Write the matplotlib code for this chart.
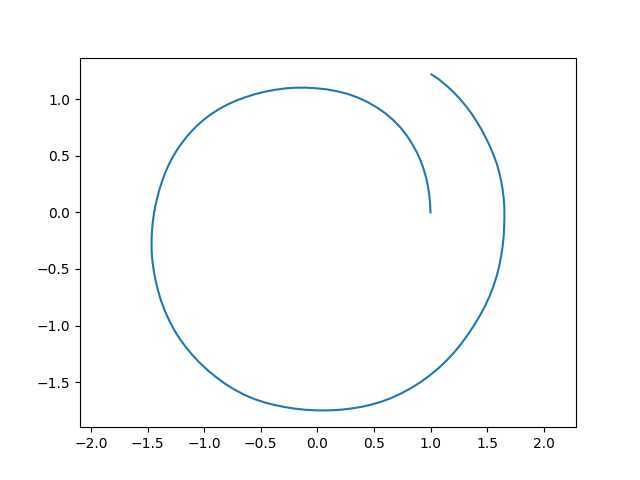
import matplotlib
matplotlib.use("Agg")
import matplotlib.pyplot as plt

x = [1.000, 0.995, 0.988, 0.976, 0.960, 0.939, 0.911, 0.879, 0.837, 0.790,
     0.734, 0.673, 0.604, 0.531, 0.443, 0.354, 0.264, 0.174, 0.081, -0.014,
     -0.106, -0.196, -0.286, -0.375, -0.464, -0.553, -0.637, -0.716, -0.792, -0.865,
     -0.935, -0.998, -1.054, -1.103, -1.149, -1.193, -1.236, -1.275, -1.311, -1.343,
     -1.370, -1.394, -1.414, -1.431, -1.444, -1.454, -1.460, -1.464, -1.465, -1.464,
     -1.458, -1.446, -1.430, -1.408, -1.382, -1.349, -1.310, -1.267, -1.218, -1.162,
     -1.102, -1.037, -0.968, -0.894, -0.816, -0.731, -0.643, -0.554, -0.464, -0.375,
     -0.286, -0.196, -0.109, -0.027, 0.047, 0.123, 0.207, 0.295, 0.384, 0.473,
     0.563, 0.652, 0.741, 0.829, 0.914, 0.993, 1.068, 1.142, 1.212, 1.276,
     1.334, 1.388, 1.438, 1.484, 1.524, 1.558, 1.586, 1.608, 1.625, 1.638,
     1.647, 1.651, 1.653, 1.652, 1.646, 1.636, 1.623, 1.606, 1.585, 1.558,
     1.527, 1.492, 1.453, 1.410, 1.364, 1.313, 1.259, 1.202, 1.141, 1.077,
     1.009]
y = [0.000, 0.089, 0.162, 0.237, 0.310, 0.383, 0.459, 0.531, 0.606, 0.679,
     0.750, 0.813, 0.873, 0.924, 0.975, 1.016, 1.048, 1.070, 1.087, 1.097,
     1.102, 1.101, 1.095, 1.083, 1.066, 1.044, 1.017, 0.988, 0.954, 0.915,
     0.870, 0.823, 0.775, 0.726, 0.675, 0.618, 0.558, 0.494, 0.425, 0.354,
     0.280, 0.206, 0.133, 0.059, -0.012, -0.082, -0.149, -0.215, -0.278, -0.347,
     -0.426, -0.513, -0.602, -0.690, -0.779, -0.867, -0.953, -1.036, -1.115, -1.191,
     -1.263, -1.332, -1.396, -1.457, -1.514, -1.567, -1.613, -1.651, -1.680, -1.703,
     -1.721, -1.735, -1.744, -1.749, -1.750, -1.749, -1.744, -1.734, -1.720, -1.700,
     -1.674, -1.641, -1.600, -1.552, -1.499, -1.441, -1.379, -1.309, -1.234, -1.155,
     -1.074, -0.993, -0.909, -0.823, -0.735, -0.646, -0.558, -0.469, -0.381, -0.292,
     -0.204, -0.118, -0.035, 0.048, 0.130, 0.208, 0.283, 0.357, 0.431, 0.504,
     0.578, 0.652, 0.726, 0.799, 0.871, 0.939, 1.003, 1.064, 1.120, 1.173,
     1.219]

fig, ax = plt.subplots(figsize=(6.4, 4.8), dpi=100)
ax.plot(x, y)
ax.axis('equal')
fig.savefig("out.png")
